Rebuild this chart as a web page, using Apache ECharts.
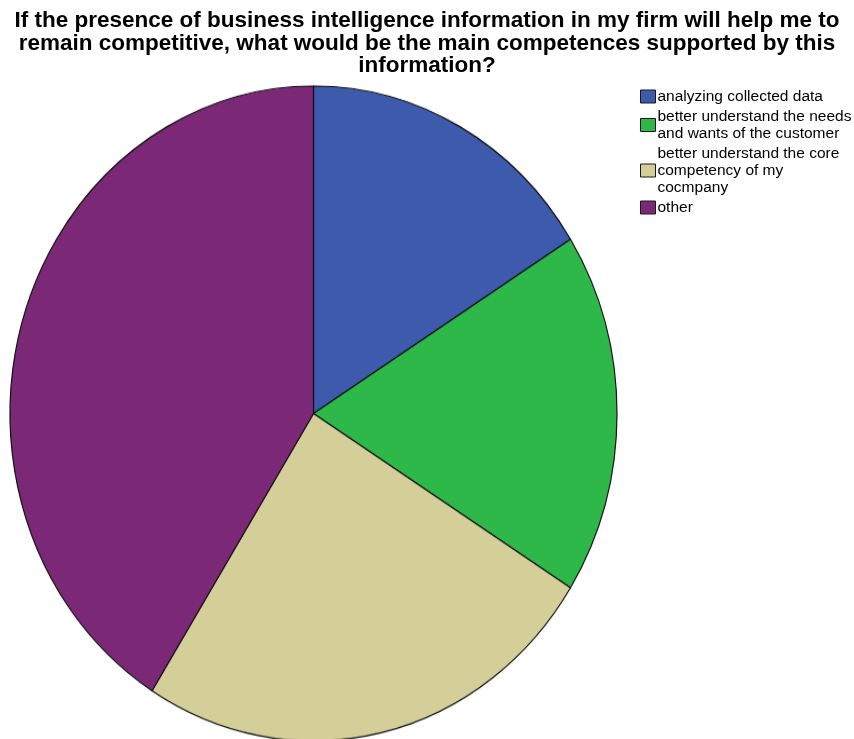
<!DOCTYPE html>
<html>
<head>
<meta charset="utf-8">
<script src="https://cdn.jsdelivr.net/npm/echarts@6/dist/echarts.min.js"></script>
<style>
  html, body { margin: 0; padding: 0; background: #fff; overflow: hidden; }
  #pie, #labels { position: absolute; left: 0; top: 0; width: 854px; height: 739px; }
  /* the source pie is a bit taller than wide */
  #pie { transform: scaleY(1.079); transform-origin: 313.5px 413.5px; }
</style>
</head>
<body>
<div id="pie"></div>
<div id="labels"></div>
<script>
const categories = [
  'analyzing collected data',
  'better understand the needs\nand wants of the customer',
  'better understand the core\ncompetency of my\ncocmpany',
  'other'
]
const counts = [9, 10, 14, 23]
const colors = ['#3d5aad', '#2eb84a', '#d4cf98', '#7b2877']

const titleText = 'If the presence of business intelligence information in my firm will help me to\n' +
  'remain competitive, what would be the main competences supported by this\n' +
  'information?'

const pieData = categories.map((name, i) => ({ name: name, value: counts[i] }))

// pie only, stretched by css
const pieChart = echarts.init(document.getElementById('pie'), null, { renderer: 'canvas' })
pieChart.setOption({
  animation: false,
  color: colors,
  series: [{
    type: 'pie',
    center: [313.5, 413.5],
    radius: 303.5,
    startAngle: 90,
    clockwise: true,
    label: { show: false },
    labelLine: { show: false },
    itemStyle: { borderColor: '#111', borderWidth: 1.2 },
    emphasis: { disabled: true },
    data: pieData
  }]
})

// title + legend on top, not stretched
const labelChart = echarts.init(document.getElementById('labels'), null, { renderer: 'canvas' })
labelChart.setOption({
  animation: false,
  color: colors,
  title: {
    text: titleText,
    left: 'center',
    top: 10,
    padding: 0,
    textStyle: {
      fontFamily: 'Liberation Sans, Arial, sans-serif',
      fontSize: 22.5,
      fontWeight: 'bold',
      lineHeight: 22.5,
      color: '#000'
    }
  },
  legend: {
    orient: 'vertical',
    left: 640,
    top: 88,
    padding: 0,
    itemGap: 3,
    itemWidth: 15,
    itemHeight: 13,
    icon: 'rect',
    itemStyle: { borderColor: '#1a1a1a', borderWidth: 1 },
    textStyle: {
      fontFamily: 'Liberation Sans, Arial, sans-serif',
      fontSize: 15.5,
      lineHeight: 17,
      color: '#000',
      padding: [0, 0, 0, -3]
    },
    data: categories
  },
  series: [{
    type: 'pie',
    center: [313.5, 413.5],
    radius: 0,
    silent: true,
    label: { show: false },
    labelLine: { show: false },
    itemStyle: { borderWidth: 0 },
    data: pieData
  }]
})
</script>
</body>
</html>
